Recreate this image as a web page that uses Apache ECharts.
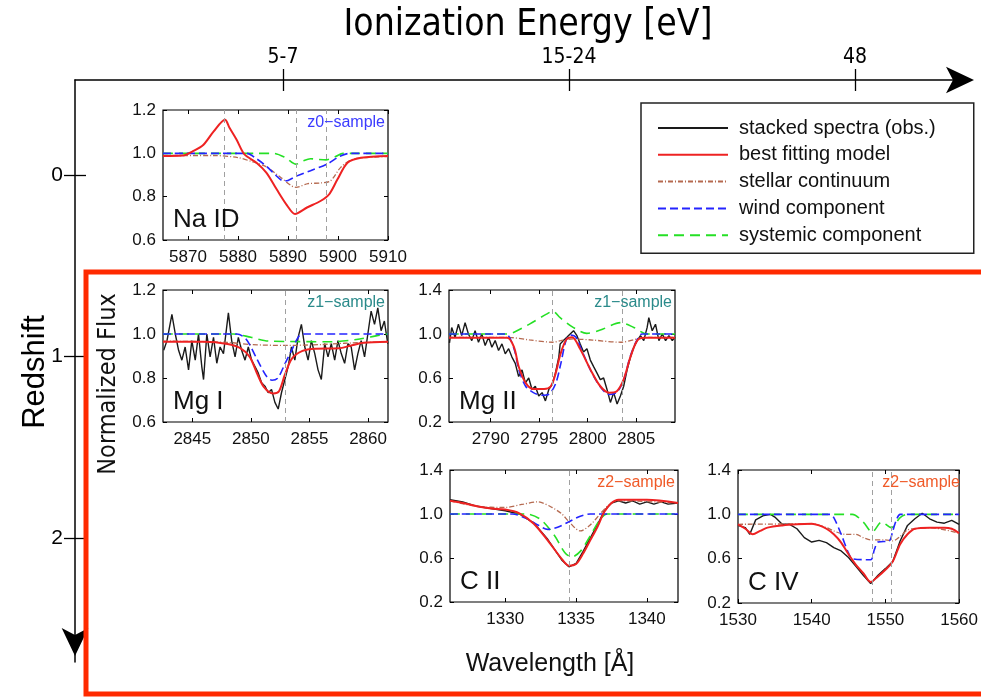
<!DOCTYPE html>
<html>
<head>
<meta charset="utf-8">
<script src="https://cdn.jsdelivr.net/npm/echarts@6/dist/echarts.min.js"></script>
<style>html,body{margin:0;padding:0;background:#fff}#main{width:981px;height:699px}</style>
</head>
<body>
<div id="main"></div>
<script>
var dom = document.getElementById("main");
var myChart = echarts.init(dom);

// outer axes
var ionPos = [1, 2, 3];
var ionLabels = ['5-7', '15-24', '48'];
var zTicks = [0, 1, 2];

// Na ID panel (z0)
var naTicks = [5870, 5880, 5890, 5900, 5910];
var naLines = [5877.3, 5891.6, 5897.6];
var naRed = [[5865,0.988],[5869,0.99],[5871,1.01],[5873.1,1.04],[5875.1,1.10],[5877.4,1.155],[5878.3,1.118],[5879.7,1.064],[5881.3,0.995],[5883.7,0.957],[5885.7,0.91],[5887.7,0.835],[5889.8,0.76],[5891.4,0.72],[5893.8,0.75],[5896.5,0.78],[5898.2,0.81],[5899.9,0.88],[5901.9,0.957],[5904.6,0.98],[5910,0.988]];
var naBrown = [[5865,0.99],[5875,0.99],[5880,0.98],[5883,0.96],[5885.5,0.94],[5888.5,0.89],[5891.6,0.843],[5894,0.86],[5896.5,0.863],[5898.5,0.873],[5900.5,0.934],[5903,0.973],[5910,0.985]];
var naBlue = [[5865,1.0],[5881.7,1.0],[5883.7,0.975],[5885.7,0.94],[5887.5,0.9],[5889.1,0.873],[5890,0.875],[5891.8,0.896],[5894.5,0.92],[5897.8,0.95],[5900.5,0.988],[5902.5,1.0],[5910,1.0]];
var naGreen = [[5865,1.0],[5887,1.0],[5889.5,0.98],[5891.6,0.95],[5893,0.965],[5894.5,0.975],[5896,0.972],[5897.6,0.97],[5899.5,0.985],[5901,1.0],[5910,1.0]];

// Mg I panel (z1)
var mgITicks = [2845, 2850, 2855, 2860];
var mgILines = [2852.96];
var mgIObs = [[2842.56,0.926],[2842.84,0.97],[2843.26,1.089],[2843.55,1.0],[2843.83,0.926],[2844.11,0.881],[2844.39,0.941],[2844.68,0.837],[2844.96,0.97],[2845.25,0.881],[2845.53,1.0],[2845.81,0.852],[2845.96,0.793],[2846.24,1.0],[2846.52,0.896],[2846.81,0.985],[2847.09,0.867],[2847.37,0.941],[2847.66,0.911],[2848.08,1.096],[2848.36,0.97],[2848.65,0.896],[2848.93,0.985],[2849.21,0.926],[2849.5,0.881],[2849.78,0.941],[2850.06,0.881],[2850.35,0.852],[2850.63,0.822],[2850.91,0.778],[2851.2,0.763],[2851.48,0.733],[2851.76,0.748],[2852.05,0.689],[2852.33,0.659],[2852.61,0.733],[2852.9,0.793],[2853.18,0.852],[2853.46,0.941],[2853.75,0.881],[2854.03,0.985],[2854.31,1.044],[2854.6,0.941],[2854.88,0.881],[2855.16,0.97],[2855.45,0.911],[2855.73,0.837],[2856.01,0.793],[2856.3,0.956],[2856.58,0.896],[2856.86,0.956],[2857.15,0.881],[2857.43,0.97],[2857.71,0.911],[2858.0,0.867],[2858.28,0.956],[2858.56,0.941],[2858.85,0.837],[2859.13,0.911],[2859.41,0.97],[2859.7,0.896],[2859.98,1.0],[2860.26,1.104],[2860.55,1.044],[2860.83,1.119],[2861.11,1.015],[2861.39,1.059],[2861.68,0.956]];
var mgIRed = [[2842.5,0.965],[2846,0.965],[2848,0.955],[2849.1,0.936],[2849.9,0.896],[2850.5,0.824],[2851.1,0.76],[2851.9,0.73],[2852.4,0.74],[2852.9,0.815],[2853.5,0.888],[2854.4,0.923],[2855.5,0.933],[2857.5,0.935],[2858.5,0.947],[2859.6,0.96],[2861.7,0.965]];
var mgIBrown = [[2842.5,0.968],[2848,0.962],[2850,0.952],[2853,0.948],[2856,0.952],[2858,0.958],[2861.7,0.965]];
var mgIBlue = [[2842.5,1.0],[2848.8,1.0],[2849.6,0.976],[2850.5,0.888],[2851.3,0.81],[2851.8,0.79],[2852.3,0.8],[2852.9,0.864],[2853.5,0.928],[2854.1,0.99],[2854.6,1.0],[2861.7,1.0]];
var mgIGreen = [[2842.5,1.0],[2848.5,1.0],[2850,0.985],[2851.5,0.968],[2857,0.965],[2859,0.975],[2861,0.995],[2861.7,1.0]];

// Mg II panel (z1)
var mgIITicks = [2790, 2795, 2800, 2805];
var mgIILines = [2796.35, 2803.53];
var mgIIObs = [[2785.75,0.92],[2785.98,1.059],[2786.32,0.97],[2786.67,1.089],[2787.01,0.985],[2787.36,1.103],[2787.7,1.0],[2788.05,0.94],[2788.39,1.03],[2788.74,0.925],[2789.08,1.0],[2789.43,0.896],[2789.78,0.97],[2790.12,0.88],[2790.46,0.94],[2790.81,0.85],[2791.16,0.91],[2791.5,0.82],[2791.85,0.867],[2792.19,0.79],[2792.53,0.733],[2792.88,0.614],[2793.23,0.674],[2793.57,0.556],[2793.92,0.6],[2794.26,0.496],[2794.6,0.525],[2794.95,0.437],[2795.3,0.467],[2795.64,0.392],[2795.99,0.496],[2796.33,0.54],[2796.67,0.644],[2797.02,0.79],[2797.16,0.91],[2797.5,0.94],[2797.85,0.97],[2798.19,1.0],[2798.54,1.03],[2798.89,0.985],[2799.23,0.91],[2799.57,0.837],[2799.92,0.867],[2800.27,0.763],[2800.61,0.703],[2800.96,0.644],[2801.3,0.585],[2801.64,0.6],[2801.99,0.496],[2802.34,0.378],[2802.68,0.467],[2803.03,0.363],[2803.37,0.437],[2803.71,0.525],[2804.06,0.674],[2804.41,0.79],[2804.75,0.88],[2805.1,0.94],[2805.44,0.985],[2805.78,0.94],[2806.13,1.06],[2806.3,1.148],[2806.65,1.03],[2806.99,1.089],[2807.34,0.94],[2807.69,1.0],[2808.03,0.94],[2808.37,0.985],[2808.72,0.94],[2809.0,0.97]];
var mgIIRed = [[2785.7,0.965],[2791.7,0.965],[2792.4,0.88],[2792.9,0.7],[2793.6,0.556],[2794.4,0.5],[2795.5,0.5],[2796.2,0.525],[2796.7,0.644],[2797.2,0.82],[2797.8,0.95],[2798.4,0.97],[2799.2,0.867],[2800.3,0.674],[2801.3,0.525],[2802.2,0.467],[2803,0.48],[2803.7,0.585],[2804.4,0.79],[2805.1,0.94],[2805.8,0.965],[2809,0.965]];
var mgIIBrown = [[2785.7,0.97],[2791.7,0.97],[2794,0.946],[2796.4,0.925],[2797.2,0.94],[2798.5,0.955],[2800.5,0.945],[2803.4,0.925],[2805.1,0.955],[2806.5,0.97],[2809,0.97]];
var mgIIBlue = [[2785.7,1.0],[2791.5,1.0],[2792.4,0.867],[2792.9,0.674],[2793.6,0.525],[2794.4,0.467],[2795.3,0.443],[2796,0.452],[2796.7,0.55],[2797.2,0.72],[2797.8,0.95],[2798.3,0.99],[2798.8,0.97],[2799.3,0.87],[2800.3,0.67],[2801.3,0.52],[2802.2,0.45],[2803,0.47],[2803.7,0.58],[2804.4,0.8],[2805.1,0.95],[2805.6,1.0],[2809,1.0]];
var mgIIGreen = [[2785.7,1.0],[2791.7,1.0],[2792.4,1.016],[2794,1.09],[2795.7,1.178],[2796.4,1.207],[2797.16,1.148],[2798.5,1.06],[2799.9,1.006],[2801.3,1.036],[2803.4,1.103],[2804.75,1.06],[2806.1,1.0],[2809,1.0]];

// C II panel (z2)
var ciiTicks = [1330, 1335, 1340];
var ciiLines = [1334.53];
var ciiObs = [[1326.1,1.13],[1327,1.11],[1328,1.07],[1329,1.05],[1330,1.03],[1331,1.0],[1332,0.92],[1333,0.77],[1334,0.58],[1334.5,0.52],[1335,0.55],[1335.5,0.66],[1336,0.78],[1336.5,0.9],[1337,1.03],[1337.5,1.1],[1338,1.12],[1338.5,1.1],[1339,1.12],[1339.5,1.09],[1340,1.11],[1340.5,1.09],[1341,1.11],[1341.5,1.09],[1342.2,1.1]];
var ciiRed = [[1326.1,1.12],[1327,1.1],[1328,1.07],[1329,1.05],[1330,1.04],[1331,1.006],[1332,0.914],[1333,0.76],[1334,0.59],[1334.5,0.53],[1335,0.545],[1335.5,0.64],[1336,0.76],[1336.5,0.88],[1337,1.02],[1337.5,1.1],[1338,1.13],[1340,1.13],[1342.2,1.1]];
var ciiBrown = [[1326.1,1.12],[1328,1.07],[1330,1.06],[1331.3,1.09],[1332.3,1.11],[1333.3,1.06],[1334,1.0],[1334.5,0.93],[1335.3,0.846],[1336,0.9],[1336.7,1.0],[1337.3,1.08],[1338,1.12],[1342.2,1.1]];
var ciiBlue = [[1326.1,1.0],[1330.5,1.0],[1331.5,0.96],[1332.3,0.9],[1333,0.86],[1333.7,0.88],[1334.5,0.93],[1335.3,0.98],[1336,1.0],[1342.2,1.0]];
var ciiGreen = [[1326.1,1.0],[1331.5,1.0],[1332.5,0.95],[1333.5,0.8],[1334.2,0.65],[1334.7,0.61],[1335.3,0.66],[1336,0.8],[1336.7,0.95],[1337.2,1.0],[1342.2,1.0]];

// C IV panel (z2)
var civTicks = [1530, 1540, 1550, 1560];
var civLines = [1548.2, 1550.77];
var civObs = [[1530,0.9],[1531,0.88],[1531.6,0.82],[1532.4,0.95],[1533.5,0.99],[1534.4,1.0],[1535,0.975],[1536,0.91],[1537,0.91],[1538,0.87],[1539,0.79],[1540,0.75],[1541,0.765],[1542,0.745],[1543,0.7],[1544,0.67],[1545,0.61],[1546,0.53],[1547,0.45],[1548,0.375],[1549,0.45],[1550,0.51],[1551,0.575],[1552,0.76],[1553,0.9],[1554,0.96],[1555,1.01],[1556,0.96],[1557,0.93],[1558,0.92],[1559,0.945],[1560,0.91]];
var civRed = [[1530,0.91],[1531,0.87],[1532,0.82],[1533,0.85],[1534,0.88],[1536,0.9],[1538,0.91],[1540,0.914],[1541,0.9],[1542,0.87],[1543,0.82],[1544,0.745],[1545,0.64],[1546,0.545],[1547,0.47],[1548,0.39],[1549,0.44],[1550,0.5],[1551,0.575],[1552,0.73],[1553,0.82],[1554,0.87],[1556,0.88],[1558,0.88],[1559,0.87],[1560,0.83]];
var civBrown = [[1530,0.91],[1540,0.914],[1542,0.88],[1543,0.85],[1544.5,0.82],[1546,0.82],[1547,0.79],[1548,0.77],[1550,0.77],[1551,0.76],[1552,0.8],[1553,0.86],[1554,0.87],[1556,0.88],[1560,0.83]];
var civBlue = [[1530,1.0],[1542.5,1.0],[1543,0.97],[1544,0.82],[1545,0.65],[1545.5,0.6],[1548,0.59],[1548.5,0.68],[1549,0.75],[1550.5,0.76],[1551,0.85],[1551.5,0.95],[1552,1.0],[1560,1.0]];
var civGreen = [[1530,1.0],[1545.5,1.0],[1547,0.93],[1548.2,0.84],[1549.5,0.93],[1550.8,0.88],[1552,0.97],[1553,1.0],[1560,1.0]];

var fontMain = "'Liberation Sans', Arial, sans-serif";
var fontNarrow = "'Liberation Sans Narrow', 'DejaVu Sans Condensed', sans-serif";

var styles = {
    obs: {name: 'stacked spectra (obs.)', color: '#1a1a1a', width: 1.4, type: 'solid', smooth: false},
    stellar: {name: 'stellar continuum', color: '#b5694f', width: 1.3, type: [5, 2, 1, 2], smooth: 0.3},
    sys: {name: 'systemic component', color: '#25e025', width: 1.6, type: [10, 6], smooth: 0.3},
    wind: {name: 'wind component', color: '#2424ff', width: 1.6, type: [8, 4], smooth: 0.3},
    model: {name: 'best fitting model', color: '#ee2222', width: 2, type: 'solid', smooth: 0.3}
};
var drawOrder = ['obs', 'stellar', 'sys', 'wind', 'model'];
var legendOrder = ['obs', 'model', 'stellar', 'wind', 'sys'];

var panels = [
    {box: {left: 163, top: 110, width: 225, height: 130}, x: [5865, 5910], y: [0.6, 1.2], xt: naTicks, yt: [0.6, 0.8, 1.0, 1.2], lines: naLines,
     data: {model: naRed, stellar: naBrown, wind: naBlue, sys: naGreen}, label: 'Na ID', sample: 'z0\u2212sample', sc: '#3b3bff'},
    {box: {left: 163, top: 290, width: 225, height: 132}, x: [2842.5, 2861.7], y: [0.6, 1.2], xt: mgITicks, yt: [0.6, 0.8, 1.0, 1.2], lines: mgILines,
     data: {obs: mgIObs, model: mgIRed, stellar: mgIBrown, wind: mgIBlue, sys: mgIGreen}, label: 'Mg I', sample: 'z1\u2212sample', sc: '#2a8a8a'},
    {box: {left: 449, top: 290, width: 226, height: 132}, x: [2785.7, 2809], y: [0.2, 1.4], xt: mgIITicks, yt: [0.2, 0.6, 1.0, 1.4], lines: mgIILines,
     data: {obs: mgIIObs, model: mgIIRed, stellar: mgIIBrown, wind: mgIIBlue, sys: mgIIGreen}, label: 'Mg II', sample: 'z1\u2212sample', sc: '#2a8a8a'},
    {box: {left: 450, top: 470, width: 228, height: 132}, x: [1326.1, 1342.2], y: [0.2, 1.4], xt: ciiTicks, yt: [0.2, 0.6, 1.0, 1.4], lines: ciiLines,
     data: {obs: ciiObs, model: ciiRed, stellar: ciiBrown, wind: ciiBlue, sys: ciiGreen}, label: 'C II', sample: 'z2\u2212sample', sc: '#f05a28'},
    {box: {left: 738, top: 470, width: 225, height: 133}, x: [1530, 1560], y: [0.2, 1.4], xt: civTicks, yt: [0.2, 0.6, 1.0, 1.4], lines: civLines,
     data: {obs: civObs, model: civRed, stellar: civBrown, wind: civBlue, sys: civGreen}, label: 'C IV', sample: 'z2\u2212sample', sc: '#f05a28'}
];

var outerTick = {lineStyle: {color: '#000', width: 1.3}};
var grids = [{left: 75, top: 80, width: 891, height: 582, show: false}];
var xAxes = [{
    gridIndex: 0, type: 'value', position: 'top', min: 0.2727, max: 3.388,
    axisLine: {onZero: false, symbol: ['none', 'arrow'], symbolSize: [20, 28], symbolOffset: [0, 8], lineStyle: {color: '#000', width: 1.5}},
    axisTick: Object.assign({customValues: ionPos, length: 11}, outerTick),
    axisLabel: {customValues: ionPos, formatter: function (v) { return ionLabels[ionPos.indexOf(v)] || ''; },
        fontFamily: fontNarrow, fontSize: 21, color: '#000', margin: 12},
    splitLine: {show: false}
}, {
    gridIndex: 0, type: 'value', position: 'top', min: 0.2727, max: 3.388,
    axisLine: {show: false, onZero: false}, axisLabel: {show: false}, splitLine: {show: false},
    axisTick: Object.assign({customValues: ionPos, inside: true, length: 11}, outerTick)
}];
var yAxes = [{
    gridIndex: 0, type: 'value', position: 'left', inverse: true, min: -0.523, max: 2.684,
    axisLine: {onZero: false, symbol: ['arrow', 'none'], symbolSize: [20, 28], symbolOffset: [6, 0], lineStyle: {color: '#000', width: 1.5}},
    axisTick: Object.assign({customValues: zTicks, length: 11}, outerTick),
    axisLabel: {customValues: zTicks, fontFamily: fontMain, fontSize: 21, color: '#000', margin: 12},
    splitLine: {show: false}
}, {
    gridIndex: 0, type: 'value', position: 'left', inverse: true, min: -0.523, max: 2.684,
    axisLine: {show: false, onZero: false}, axisLabel: {show: false}, splitLine: {show: false},
    axisTick: Object.assign({customValues: zTicks, inside: true, length: 11}, outerTick)
}];
var series = [];
var graphics = [];

panels.forEach(function (p, i) {
    var g = i + 1;
    grids.push(Object.assign({show: true, borderColor: '#000', borderWidth: 1.2, backgroundColor: '#fff'}, p.box));
    var xi = xAxes.length, yi = yAxes.length;
    var tickStyle = {lineStyle: {color: '#000', width: 1}};
    xAxes.push({
        gridIndex: g, type: 'value', position: 'bottom', min: p.x[0], max: p.x[1],
        axisLine: {show: false, onZero: false}, splitLine: {show: false},
        axisTick: Object.assign({customValues: p.xt, inside: true, length: 4}, tickStyle),
        axisLabel: {customValues: p.xt, formatter: function (v) { return String(v); },
            fontFamily: fontMain, fontSize: 17, color: '#111', margin: 9}
    });
    xAxes.push({
        gridIndex: g, type: 'value', position: 'top', min: p.x[0], max: p.x[1],
        axisLine: {show: false, onZero: false}, splitLine: {show: false}, axisLabel: {show: false},
        axisTick: Object.assign({customValues: p.xt, inside: true, length: 4}, tickStyle)
    });
    yAxes.push({
        gridIndex: g, type: 'value', position: 'left', min: p.y[0], max: p.y[1],
        axisLine: {show: false, onZero: false}, splitLine: {show: false},
        axisTick: Object.assign({customValues: p.yt, inside: true, length: 4}, tickStyle),
        axisLabel: {customValues: p.yt, formatter: function (v) { return v.toFixed(1); },
            fontFamily: fontMain, fontSize: 17, color: '#111', margin: 7}
    });
    yAxes.push({
        gridIndex: g, type: 'value', position: 'right', min: p.y[0], max: p.y[1],
        axisLine: {show: false, onZero: false}, splitLine: {show: false}, axisLabel: {show: false},
        axisTick: Object.assign({customValues: p.yt, inside: true, length: 4}, tickStyle)
    });
    var first = true;
    drawOrder.forEach(function (k) {
        if (!p.data[k]) return;
        var s = styles[k];
        var ser = {
            name: s.name, type: 'line', xAxisIndex: xi, yAxisIndex: yi,
            data: p.data[k], showSymbol: false, symbol: 'none', smooth: s.smooth,
            lineStyle: {color: s.color, width: s.width, type: s.type},
            itemStyle: {color: s.color}, silent: true
        };
        if (first) {
            ser.markLine = {
                silent: true, symbol: 'none', label: {show: false},
                lineStyle: {color: '#a0a0a0', type: [5, 4], width: 1},
                data: p.lines.map(function (v) { return {xAxis: v}; })
            };
            first = false;
        }
        series.push(ser);
    });
    graphics.push({
        type: 'text', left: p.box.left + 10, top: p.box.top + p.box.height - 33, z: 50,
        style: {text: p.label, font: '26px ' + fontMain, fill: '#111'}
    });
    graphics.push({
        type: 'text', right: 981 - (p.box.left + p.box.width - 3), top: p.box.top + 5, z: 50,
        style: {text: p.sample, font: '16px ' + fontMain, fill: p.sc}
    });
});

graphics.push({
    type: 'rect', z: 40, silent: true,
    shape: {x: 86, y: 272, width: 920, height: 422},
    style: {fill: 'none', stroke: '#ff2a00', lineWidth: 5}
});
graphics.push({
    type: 'text', z: 50, x: 528, y: 25,
    style: {text: 'Ionization Energy [eV]', font: '37px ' + fontNarrow, fill: '#000', textAlign: 'center', textVerticalAlign: 'middle'}
});
graphics.push({
    type: 'text', z: 50, x: 35, y: 372, rotation: Math.PI / 2,
    style: {text: 'Redshift', font: '31px ' + fontMain, fill: '#000', textAlign: 'center', textVerticalAlign: 'middle'}
});
graphics.push({
    type: 'text', z: 50, x: 108, y: 384, rotation: Math.PI / 2,
    style: {text: 'Normalized Flux', font: '25px ' + fontNarrow, fill: '#111', textAlign: 'center', textVerticalAlign: 'middle'}
});
graphics.push({
    type: 'text', z: 50, x: 550, y: 664,
    style: {text: 'Wavelength [\u00c5]', font: '25px ' + fontMain, fill: '#111', textAlign: 'center', textVerticalAlign: 'middle'}
});

option = {
    animation: false,
    backgroundColor: '#fff',
    grid: grids,
    xAxis: xAxes,
    yAxis: yAxes,
    series: series,
    legend: {
        data: legendOrder.map(function (k) { return styles[k].name; }),
        orient: 'vertical', left: 641, top: 103,
        itemWidth: 70, itemHeight: 20, itemGap: 6.8,
        padding: [15, 38, 8, 16],
        itemStyle: {opacity: 0, borderWidth: 0},
        backgroundColor: '#fff', borderColor: '#222', borderWidth: 1.5,
        textStyle: {fontFamily: fontMain, fontSize: 20, color: '#111', padding: [0, 0, 0, 6]},
        selectedMode: false
    },
    graphic: graphics
};
if (option && typeof option === "object") {
    myChart.setOption(option, true);
}
</script>
</body>
</html>
